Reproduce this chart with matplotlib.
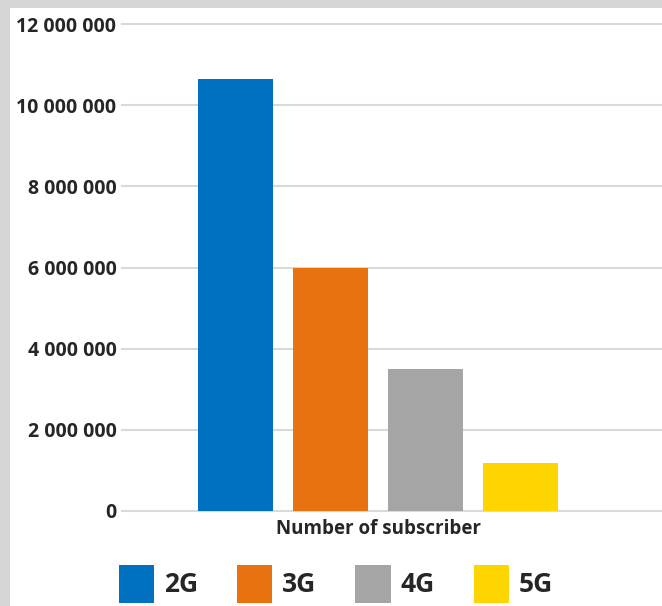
import matplotlib
matplotlib.use('Agg')
import matplotlib.pyplot as plt
from matplotlib.patches import Rectangle
from matplotlib.ticker import FuncFormatter, MultipleLocator

# data
technologies = ['2G', '3G', '4G', '5G']
subscribers = [10_650_000, 6_000_000, 3_500_000, 1_180_000]
category = 'Number of subscriber'

_COLORS = ['#0070C0', '#E8720F', '#A5A5A5', '#FFD500']
_FONT = ['Open Sans', 'DejaVu Sans']

fig = plt.figure(figsize=(6.62, 6.06), dpi=100, facecolor='#d6d6d6')
# white panel (the reference sits on a grey page)
fig.patches.append(Rectangle((10 / 662, 0), 1, 1 - 8 / 606,
                             transform=fig.transFigure, facecolor='white',
                             edgecolor='none', zorder=-5))

ax = fig.add_axes([122 / 662, 1 - 511 / 606, 540 / 662, (511 - 24) / 606])
ax.set_facecolor('none')

bars = []
for i, (tech, val, col) in enumerate(zip(technologies, subscribers, _COLORS)):
    b = ax.bar(i, val, width=0.79, color=col, label=tech, zorder=3)
    bars.append(b)

ax.set_xlim(-1.2, 4.49)
ax.set_ylim(0, 12_000_000)
ax.yaxis.set_major_locator(MultipleLocator(2_000_000))
ax.yaxis.set_major_formatter(FuncFormatter(lambda v, _: f'{v:,.0f}'.replace(',', ' ')))
ax.grid(axis='y', color='#d9d9d9', linewidth=1.5, zorder=0)
for gl in ax.get_ygridlines():
    gl.set_clip_on(False)

for s in ax.spines.values():
    s.set_visible(False)
ax.tick_params(axis='both', length=0)
ax.tick_params(axis='y', pad=4)
ax.tick_params(axis='x', pad=6)
ax.set_xticks([1.5])
ax.set_xticklabels([category])
for lbl in ax.get_yticklabels():
    lbl.set_family(_FONT)
    lbl.set_fontweight('bold')
    lbl.set_fontsize(14)
    lbl.set_color('#262626')
for lbl in ax.get_xticklabels():
    lbl.set_family(_FONT)
    lbl.set_fontweight('bold')
    lbl.set_fontsize(13.5)
    lbl.set_color('#262626')

leg = fig.legend(handles=[b[0] for b in bars], labels=technologies,
                 loc='center', bbox_to_anchor=(336 / 662, 1 - 584 / 606),
                 ncol=4, frameon=False, handlelength=1.33, handleheight=1.85,
                 handletextpad=0.38, columnspacing=1.48,
                 prop={'family': _FONT, 'weight': 'bold', 'size': 19})
for t in leg.get_texts():
    t.set_color('#262626')

fig.savefig('out.png', dpi=100, facecolor=fig.get_facecolor())
